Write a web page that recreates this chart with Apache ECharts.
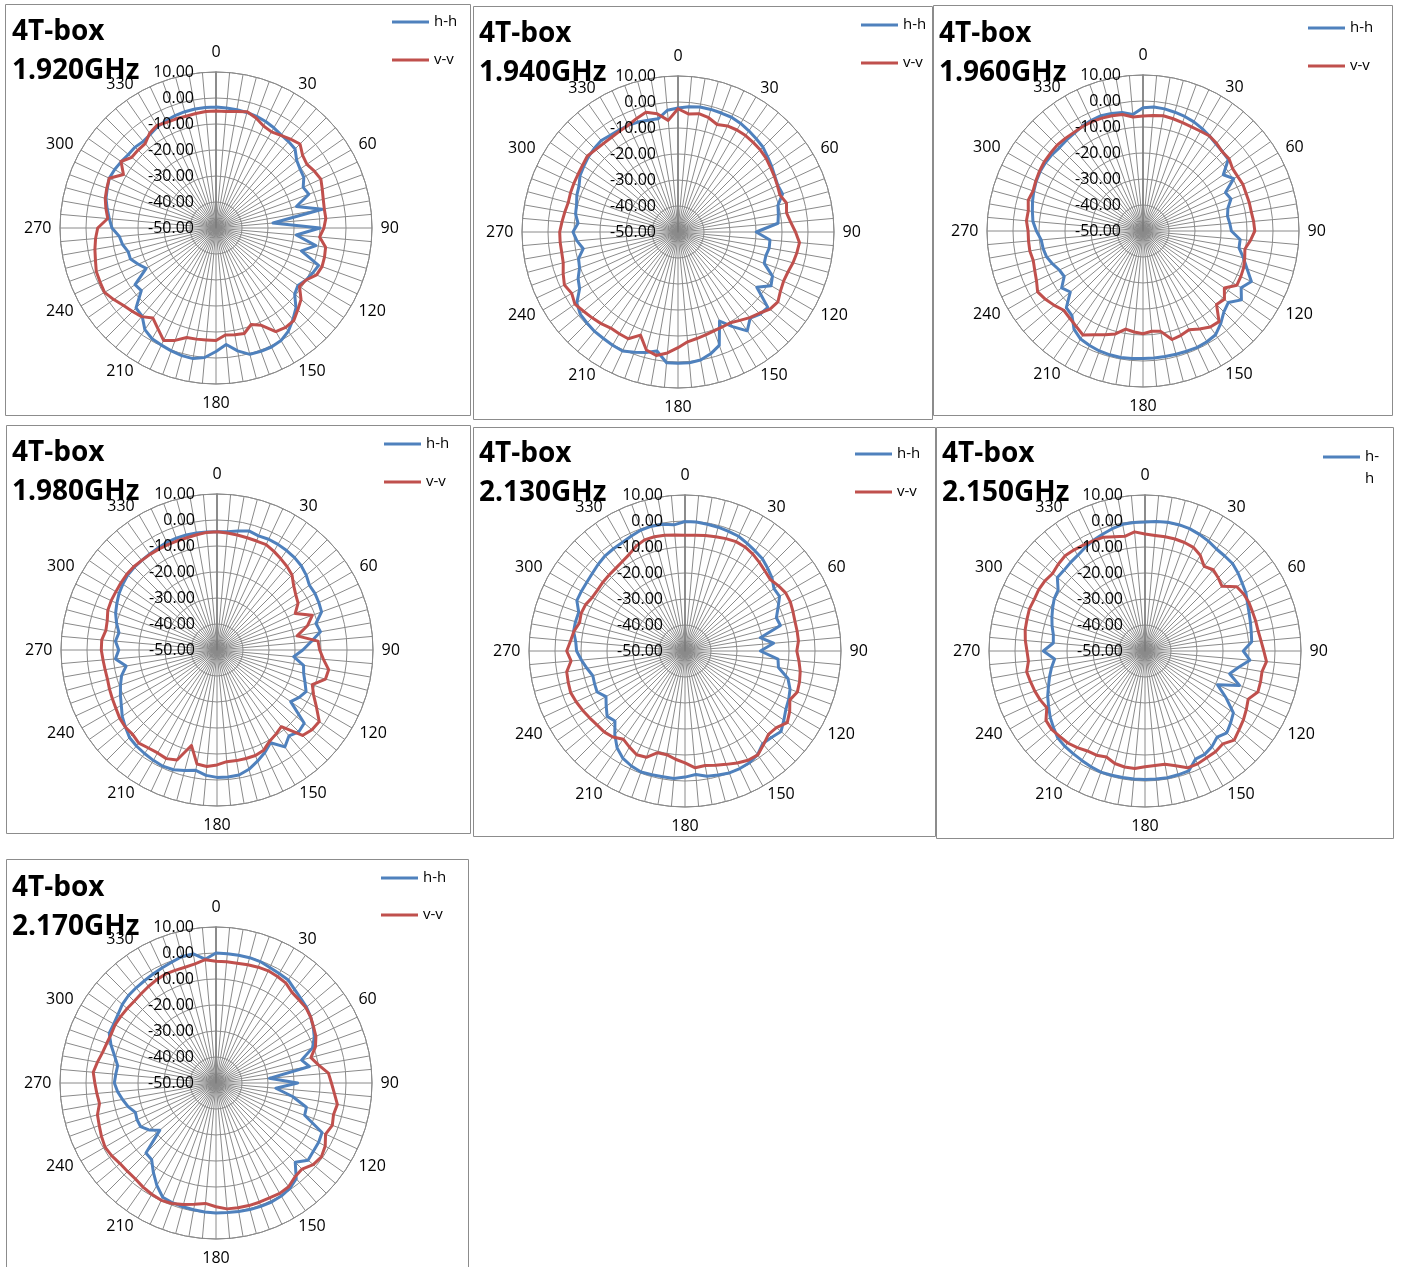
<!DOCTYPE html>
<html><head><meta charset="utf-8">
<script src="https://cdn.jsdelivr.net/npm/echarts@6/dist/echarts.min.js"></script>
<style>html,body{margin:0;padding:0;background:#fff}#c{width:1401px;height:1267px}</style>
</head><body><div id="c"></div>
<script>
// ---- data ----
const ANGLES = [0,5,10,15,20,25,30,35,40,45,50,55,60,65,70,75,80,85,90,95,100,105,110,115,120,125,130,135,140,145,150,155,160,165,170,175,180,185,190,195,200,205,210,215,220,225,230,235,240,245,250,255,260,265,270,275,280,285,290,295,300,305,310,315,320,325,330,335,340,345,350,355];
const TITLE = '4T-box';
const FREQS = ['1.920GHz','1.940GHz','1.960GHz','1.980GHz','2.130GHz','2.150GHz','2.170GHz'];
const SERIES_NAMES = ['h-h','v-v'];

const HH_1920 = [-3.5,-3.7,-3.8,-4,-4.3,-4.8,-5.5,-6.3,-6.6,-7,-9.5,-10.5,-11,-13,-12,-18,-8.5,-28,-10,-19,-11,-16,-8,-9,-10,-11.5,-10.5,-6.5,-4,-1.5,0,0.5,0.5,0.3,-2,-5,-2.5,0,1,0.8,0.3,-0.3,-0.8,-2.3,-5.8,-6.5,-12.5,-12,-19,-17,-15,-15,-13.5,-12.7,-10,-8.8,-7.5,-6.2,-5.5,-4.7,-5,-5.5,-6,-6,-6.5,-6,-5,-4.5,-4,-3.7,-3.5,-3.5];
const VV_1920 = [-5,-5,-4.5,-3.7,-5,-6.7,-7.3,-6.5,-5.4,-4.3,-6.5,-7.3,-6.3,-5.5,-6.5,-7.3,-7.7,-7.6,-8.5,-10,-7.2,-6.8,-6.6,-7.3,-10,-10.8,-7.3,-5.5,-3.5,-3.3,-4,-8.7,-10.5,-8,-8.3,-8.7,-6.7,-6.8,-6.6,-6.4,-4,-2.3,-5.3,-7.7,-5.5,-4.6,-3.6,-2,-0.5,-0.8,-1,-2,-2.7,-3.5,-4.5,-8.2,-7,-5.9,-5.3,-4.7,-8.9,-5.4,-7.7,-7.6,-7.6,-5.5,-4.5,-5.2,-5.3,-5.5,-5.3,-5];

const HH_1940 = [-2.3,-1.6,-1.2,-1.2,-1.3,-1.3,-1.8,-2.5,-3.2,-3.8,-5,-6,-7,-7.6,-7.2,-10.2,-10.8,-11.4,-19.9,-14.5,-14.4,-15,-14.7,-9.9,-8.7,-13,-4.9,-5.3,-6.8,-3.6,-8,-12.2,-3.6,-1.5,0,0.5,0.5,0.5,-3.5,-2,-0.8,0.5,0.3,0,-0.1,-0.5,-0.9,-2.5,-6.3,-7.6,-9.7,-10.4,-13,-11,-9.6,-11.4,-10,-9.6,-8.6,-8,-6.5,-5.8,-5,-4.5,-4.1,-4.6,-4.7,-4.7,-5,-5.5,-5.8,-3];
const VV_1940 = [-2.6,-4.4,-3.8,-4.5,-6,-5,-4.7,-4.7,-5,-5.3,-5.8,-6.6,-7.2,-7.8,-8.3,-6.8,-7.6,-6.5,-4.8,-3.1,-3.6,-4.2,-5,-5.2,-4.5,-3.1,-3.8,-5.8,-7,-8.5,-9.7,-9.7,-9.5,-9,-8.4,-7.6,-5.5,-3.3,-1.8,-3,-7.8,-4.7,-4.8,-4.9,-4,-3.3,-2.6,-1.6,-2.8,-1.8,-3,-4.3,-4.6,-4.5,-4.5,-5.2,-5.8,-6.3,-6,-5.8,-5.6,-5.2,-4.5,-5.2,-5.5,-5.5,-5.2,-4.7,-3.5,-2.3,-3.8,-6.9];

const HH_1960 = [-2.6,-2.1,-2.3,-2.7,-3.1,-3.7,-4.5,-5.4,-6.3,-6.8,-7.2,-12.3,-9.7,-15,-14,-16.2,-17,-16.5,-16,-12.5,-12.5,-10,-7.4,-4,-6.4,-3.8,-7.2,-6,-3.5,-1.3,-0.8,-0.6,-0.8,-0.9,-1,-1,-1,-0.8,-0.6,-0.7,-0.9,-1.4,-2,-3.8,-7.5,-8.3,-13.5,-11.8,-15,-14.5,-13,-11.6,-11,-10.7,-9,-7.5,-6.8,-6,-5.3,-4.7,-4.3,-4.2,-4.3,-4.6,-4.3,-4,-3.4,-3,-2.8,-3.2,-3.7,-5];
const VV_1960 = [-5.8,-5.4,-5,-5.3,-5.6,-5.8,-5.7,-5.4,-6,-6.9,-6.8,-8,-8,-7.6,-7.8,-7.7,-7.7,-7.3,-7,-8.5,-10.2,-9.5,-8.8,-8.5,-8.3,-11.8,-9.1,-10,-4.5,-4.9,-6.5,-8.1,-7.3,-6.8,-10.8,-11.3,-10.5,-11,-11.7,-9,-7.5,-6,-3.8,-5.2,-6.2,-6.9,-5.5,-4.2,-3.2,-4.8,-5.7,-6.3,-5.8,-5.8,-5.8,-5,-5.2,-4.3,-5,-4.5,-4,-3.6,-3.5,-3.3,-3.5,-3.7,-3.6,-3.6,-3.8,-4.1,-4.5,-6];

const HH_1980 = [-4.5,-4.3,-3.5,-2.6,-3.3,-3,-3.1,-3.3,-3.6,-4.2,-5.2,-6.6,-6.5,-6.8,-7.2,-10.6,-9.6,-13.7,-17,-20.4,-16.2,-15.5,-14,-12.2,-13.5,-15.4,-6.2,-5.5,-6.9,-4.5,-8.8,-6.5,-4.5,-2.5,-1.2,-1,-1,-1.6,-3,-2,-1,-0.7,-1,-1.4,-1.8,-2.4,-4,-5.5,-7.5,-9,-10.5,-12,-14.5,-10.8,-12.2,-10.8,-11.7,-10,-8.5,-7.5,-6.5,-5.8,-5.2,-5,-5,-4.9,-4.7,-4.3,-4.2,-4.2,-4.3,-4.4];
const VV_1980 = [-4.5,-4.8,-5.1,-5.3,-5.4,-5.3,-6.2,-7.2,-8.1,-9.2,-11.5,-13,-14,-16.8,-11,-14,-18.7,-11,-10.5,-8.9,-6.4,-6.8,-11,-9,-5.8,-2,-2.3,-3.5,-11.5,-10.5,-9.5,-7.5,-6.8,-6.8,-6.8,-6.9,-5.8,-5,-5.5,-12,-5,-3.9,-4.3,-4,-3.2,-4.1,-3.9,-4.3,-5.1,-5.6,-6,-6.4,-6.3,-6,-5.5,-5.5,-6.6,-6.3,-5.3,-5.1,-5.1,-4.9,-4.7,-4.7,-5,-5.1,-5.2,-5.3,-5.3,-5.3,-5,-4.6];

const HH_2130 = [-0.2,-0.2,-0.5,-0.7,-1,-1.3,-2.2,-3,-3.7,-5,-6.3,-8.2,-8,-10.5,-12.6,-12,-20.6,-15.8,-21,-14.1,-13.5,-9,-7,-6,-5.2,-3.6,-1.8,-3,-3.5,-1.3,-0.4,-0.1,-0.1,-0.6,-1.1,-2.3,-1.5,-0.8,-0.9,-0.7,-0.5,-1.2,-2.3,-4.5,-8,-11.9,-10.9,-13,-14.9,-12.7,-13,-13.3,-11.7,-10,-8.3,-7.8,-6.5,-6.4,-6.5,-4.1,-4,-3.9,-3.5,-2.8,-2.2,-2,-1.8,-1.2,-0.5,-0.3,-0.5,-1.3];
const VV_2130 = [-5.5,-5.3,-4.9,-4.5,-4,-3.6,-3.8,-4.5,-5.5,-6.5,-7.2,-6.2,-5.3,-5.3,-5.8,-6.2,-6.2,-6.2,-7,-6,-5,-4.4,-4,-5.5,-3.5,-2,-4.1,-4.6,-3,-1.2,-1.5,-2.5,-3.6,-4.5,-5.3,-4.9,-7,-8.2,-9.5,-9.5,-6.5,-6,-7.3,-8.6,-6.8,-6,-5.8,-5.2,-4.5,-3.8,-3.2,-3.5,-3.8,-6,-4.5,-5.8,-6.6,-8,-7.5,-7.8,-8.8,-9,-8.8,-8.7,-8.5,-8,-7.1,-5.5,-4.5,-4.5,-4.8,-5.2];

const HH_2150 = [-0.4,0,0.3,0.3,0.1,-0.5,-1.2,-2.1,-2.3,-2.4,-3.3,-4.4,-5.2,-6.5,-7.4,-8,-8.5,-8.8,-12.2,-9.5,-13.6,-16.3,-11.3,-19.2,-14,-8.5,-7,-5.5,-6.8,-5.1,-4.1,-4.1,-0.9,-0.7,-0.5,-0.6,-0.6,-0.6,-0.6,-0.5,-0.4,-0.9,-1.4,-1.8,-2.1,-2.6,-4.1,-5.5,-7.2,-8.7,-10.5,-12,-13.5,-15.1,-10.9,-14.6,-14.2,-13,-11.9,-10.8,-9.7,-9.2,-6,-6,-5.5,-5,-4,-3,-2.2,-1.3,-0.5,-0.4];
const VV_2150 = [-5,-5.4,-5.4,-5.4,-5.6,-6,-7.5,-10.3,-9.2,-10.2,-11.3,-6.9,-6.2,-5.9,-6,-5.9,-5.8,-5.2,-4.3,-3.1,-4.3,-4,-3.8,-6.2,-5,-3.8,-2.8,-1.5,-3.4,-2.7,-2.6,-2.1,-2.2,-4.3,-5.8,-5.8,-5.5,-4.6,-4.7,-5.2,-6.6,-5.8,-5.6,-4.6,-3.8,-3.6,-3.1,-3.5,-6.4,-5.5,-4.9,-4.4,-3.8,-5,-4.6,-3.8,-3.2,-3,-2.7,-3,-2.8,-3,-3.6,-2.8,-2.2,-2.5,-2.9,-3.2,-3.4,-4.5,-5.2,-4];

const HH_2170 = [0,-0.1,-0.1,-0.1,-0.3,-1,-1.4,-1.6,-3,-3.9,-4.6,-5.6,-6.8,-8.3,-10.5,-15.9,-13.5,-29.4,-18.6,-26.9,-20.1,-14,-13.7,-5,-4.4,-4.3,-3.8,-6.9,-2,-0.5,0.2,0.5,0.5,0.4,0.2,0,0,-0.2,-0.5,-0.7,-1,-1.5,-4.5,-8,-11.5,-11.9,-21.8,-18.5,-16.5,-16.5,-17,-15,-13.5,-12,-10.9,-11.3,-11.6,-9.6,-7,-4.7,-4.6,-4,-3,-2.4,-2.2,-2,-1.6,-1.1,-0.5,0.4,0.4,-2.2];
const VV_2170 = [-3.2,-3.2,-3.2,-2.9,-2.6,-2.4,-2.7,-3.1,-4.5,-4.8,-4.9,-5.6,-6.7,-7.6,-9.3,-12.2,-10,-6.6,-5.6,-4.3,-2.6,-3.2,-2.4,-3.5,-1.5,-0.5,-1.2,-3.2,-2.8,-1.3,-1,-1.3,-1.2,-1.2,-1.3,-1.4,-2.4,-3.5,-2.6,-1.6,-0.7,-0.2,-0.6,-1.1,-1.8,-1.9,-1.8,-1.1,-0.7,-1.4,-2.2,-2.8,-4.5,-4,-3.4,-2.6,-3.7,-4.8,-5.3,-5.5,-5.2,-5.3,-5.4,-5.5,-5.2,-4.7,-4.2,-3.8,-3.9,-3.9,-3.5,-2.4];

const RADIAL_MIN = -50, RADIAL_MAX = 10, RADIAL_STEP = 10;
const ANGLE_LABEL_STEP = 30;

// ---- layout (positions only) ----
const PANELS = [
  {box:[5,4,465,411],   c:[216,228],  title:[12,13],   leg:[392,22,60]},
  {box:[473,6,459,413], c:[678,232],  title:[479,15],  leg:[861,25,63]},
  {box:[933,5,459,410], c:[1143,231], title:[939,15],  leg:[1308,28,66]},
  {box:[6,425,464,408], c:[217,650],  title:[12,434],  leg:[384,444,482]},
  {box:[473,427,462,409], c:[685,651], title:[479,435], leg:[855,454,492]},
  {box:[936,427,457,411], c:[1145,651], title:[942,435], leg:[1323,457,null]},
  {box:[6,859,462,420], c:[216,1083], title:[12,869],  leg:[381,878,915]}
];
const DATA = [[HH_1920,VV_1920],[HH_1940,VV_1940],[HH_1960,VV_1960],[HH_1980,VV_1980],[HH_2130,VV_2130],[HH_2150,VV_2150],[HH_2170,VV_2170]];
const COLORS = ['#4F81BD','#C0504D'];
const GRID = '#8a8a8a';
const FONT = 'Open Sans';
const N = PANELS.length;

const option = {animation:false, polar:[], angleAxis:[], radiusAxis:[], series:[], title:[], legend:[], graphic:[]};

// main polar systems (grid + lines)
PANELS.forEach((P, i) => {
  option.graphic.push({type:'rect', silent:true, z:-10,
    shape:{x:P.box[0]+0.5, y:P.box[1]+0.5, width:P.box[2], height:P.box[3]},
    style:{fill:null, stroke:'#8c8c8c', lineWidth:1}});
  option.polar.push({center:[P.c[0], P.c[1]], radius:156});
  option.angleAxis.push({polarIndex:i, type:'value', min:0, max:360, interval:ANGLE_LABEL_STEP,
    startAngle:90, clockwise:true,
    axisLine:{show:true, lineStyle:{color:GRID, width:1}},
    axisTick:{show:false},
    axisLabel:{margin:8.5, color:'#000', fontFamily:FONT, fontSize:16,
      formatter:v => v >= 360 ? '' : (v % 180 === 0 ? '{n|' + v + '}' : '{d|' + v + '}'),
      rich:{n:{fontFamily:FONT, fontSize:16, color:'#000', lineHeight:22},
            d:{fontFamily:FONT, fontSize:16, color:'#000', lineHeight:2}}},
    splitLine:{show:true, lineStyle:{color:GRID, width:1}},
    minorTick:{show:false, splitNumber:6},
    minorSplitLine:{show:true, lineStyle:{color:GRID, width:1}}
  });
  option.radiusAxis.push({polarIndex:i, type:'value', min:RADIAL_MIN, max:RADIAL_MAX, interval:RADIAL_STEP,
    axisLine:{show:true, lineStyle:{color:'#7a7a7a', width:1.5}},
    axisTick:{show:false},
    axisLabel:{show:false},
    splitLine:{show:true, lineStyle:{color:GRID, width:1}}
  });
  DATA[i].forEach((vals, s) => {
    const pts = ANGLES.map((a, k) => [vals[k], a]);
    pts.push([vals[0], 360]);
    option.series.push({type:'line', name:SERIES_NAMES[s], coordinateSystem:'polar', polarIndex:i,
      data:pts, showSymbol:false, symbol:'none', z:3,
      lineStyle:{width:3, color:COLORS[s], join:'round', cap:'round'}, itemStyle:{color:COLORS[s]}});
  });
  option.title.push({text:TITLE + '\n' + FREQS[i], left:P.title[0], top:P.title[1], padding:0,
    textStyle:{fontFamily:FONT, fontWeight:'bold', fontSize:28, lineHeight:39, color:'#000'}});
  const legText = {fontFamily:FONT, fontSize:15, color:'#000', lineHeight:16};
  if (P.leg[2] === null) {
    // legend text wraps as "h-" / "h" in the reference
    option.legend.push({data:[SERIES_NAMES[0]], left:P.leg[0], top:P.leg[1]-33, padding:0, icon:'rect',
      itemWidth:37, itemHeight:3, itemGap:0, selectedMode:false, formatter:() => ' \nh-\nh',
      textStyle:Object.assign({}, legText, {lineHeight:22})});
  } else {
    SERIES_NAMES.forEach((nm, s) => {
      option.legend.push({data:[nm], left:P.leg[0], top:P.leg[1+s]-8, padding:0, icon:'rect',
        itemWidth:37, itemHeight:3, itemGap:0, selectedMode:false, textStyle:legText});
    });
  }
});

// overlay polar systems: radial value labels drawn above the lines
PANELS.forEach((P, i) => {
  const idx = N + i;
  option.polar.push({center:[P.c[0], P.c[1]], radius:156, z:10});
  option.angleAxis.push({polarIndex:idx, type:'value', min:0, max:360, startAngle:90, clockwise:true, z:10,
    axisLine:{show:false}, axisTick:{show:false}, axisLabel:{show:false}, splitLine:{show:false}});
  option.radiusAxis.push({polarIndex:idx, type:'value', min:RADIAL_MIN, max:RADIAL_MAX, interval:RADIAL_STEP, z:10,
    axisLine:{show:false}, axisTick:{show:false}, splitLine:{show:false},
    axisLabel:{margin:22, color:'#000', fontFamily:FONT, fontSize:16, formatter:v => v.toFixed(2)}});
});

const chart = echarts.init(document.getElementById('c'), null, {renderer:'canvas'});
chart.setOption(option);
</script></body></html>
